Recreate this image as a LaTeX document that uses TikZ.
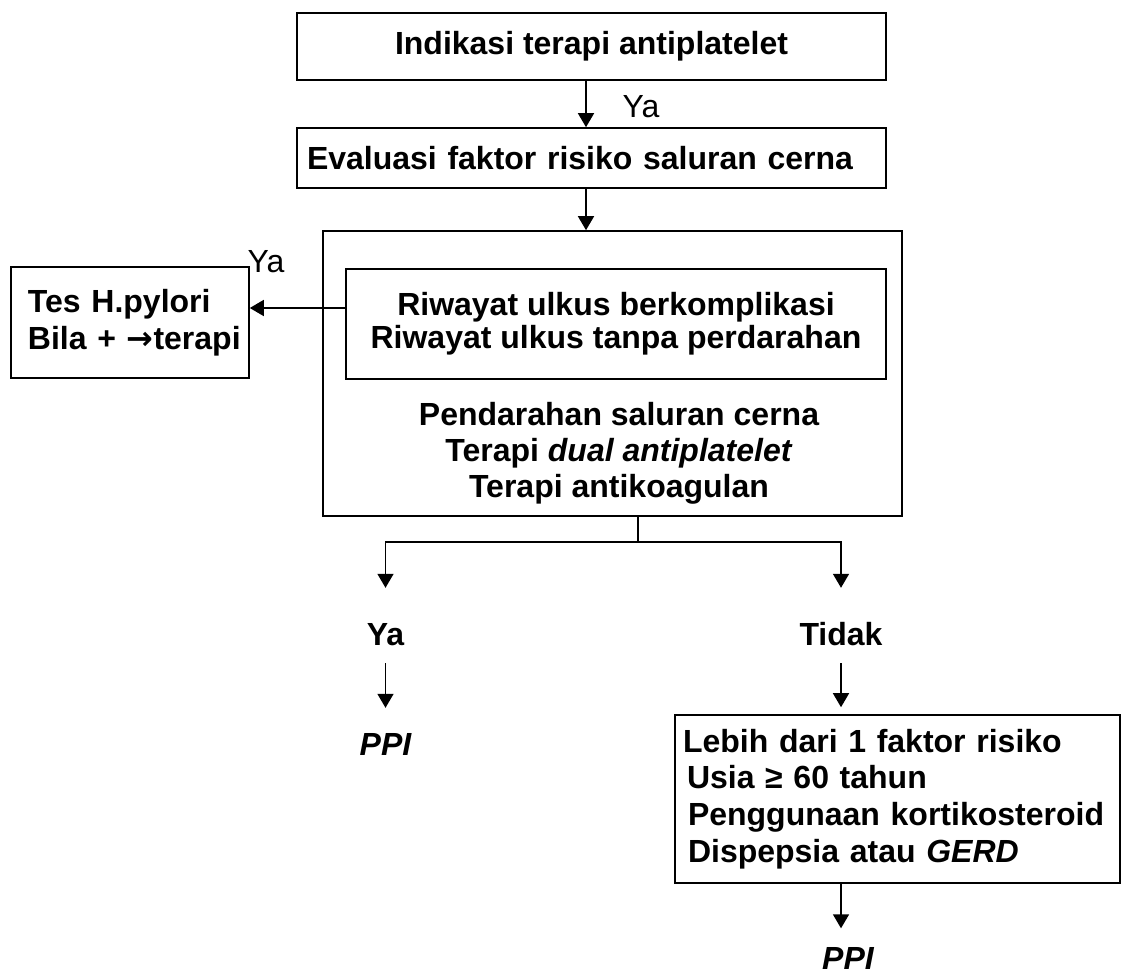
\documentclass[tikz,border=0pt]{standalone}
\usepackage{fontspec}
\setmainfont{Liberation Sans}
\newfontfamily\symfont{DejaVu Sans}
\usetikzlibrary{arrows.meta}

\begin{document}
\begin{tikzpicture}[x=1pt,y=-1pt,
  every node/.style={font=\fontsize{32}{36}\selectfont\bfseries},
  box/.style={draw, line width=1.6pt, inner sep=0pt},
  arr/.style={line width=1.6pt, -{Triangle[length=14pt,width=16pt]}},
  ln/.style={line width=1.6pt},
  lbl/.style={inner sep=0pt, text height=23pt, text depth=0pt},
  plain/.style={font=\fontsize{32}{36}\selectfont\mdseries},
  emph/.style={font=\fontsize{32}{36}\selectfont\bfseries\itshape}]
\useasboundingbox (0,0) rectangle (1122,976);

\node[box, minimum width=589pt, minimum height=67pt] (b1) at (591.5,46.5) {Indikasi terapi antiplatelet};
\node[box, minimum width=589pt, minimum height=60pt, text width=569pt, align=left, inner xsep=10pt] (b2) at (591.5,158) {Evaluasi faktor risiko saluran cerna};

\node[box, minimum width=579pt, minimum height=285pt] (big) at (612.5,373.5) {};
\node[box, minimum width=540pt, minimum height=110pt, align=center, font=\fontsize{32}{33}\selectfont\bfseries] (inner) at (616,324) {Riwayat ulkus berkomplikasi\\Riwayat ulkus tanpa perdarahan};
\node[align=center, font=\fontsize{32}{36}\selectfont\bfseries] (risk) at (619,453) {Pendarahan saluran cerna\\Terapi \textit{dual antiplatelet}\\Terapi antikoagulan};

\node[box, minimum width=238pt, minimum height=111pt, text width=230pt, align=left, inner xsep=4pt, font=\fontsize{32}{37}\selectfont\bfseries] (tes) at (130,322.5) {\hspace*{13pt}\mbox{Tes H.pylori}\\\hspace*{13pt}\mbox{Bila + {\symfont\bfseries →}terapi}};

\node[lbl, plain] (ya0) at (641,106) {Ya};
\node[lbl, plain] (ya1) at (266,261) {Ya};
\node[lbl] (ya) at (385.5,634) {Ya};
\node[lbl] (tidak) at (841,634) {Tidak};
\node[lbl, emph] (ppi1) at (385.5,744) {PPI};

\node[box, minimum width=445pt, minimum height=168pt, text width=429pt, align=left, inner xsep=8pt, font=\fontsize{32}{36.7}\selectfont\bfseries] (risk2) at (897.5,799) {Lebih dari 1 faktor risiko\\\hspace*{4pt}Usia ≥ 60 tahun\\\hspace*{5pt}Penggunaan kortikosteroid\\\hspace*{5pt}Dispepsia atau \textit{GERD}};
\node[lbl, emph] (ppi2) at (848,958) {PPI};

\draw[arr] ([xshift=-5.5pt]b1.south) -- ([xshift=-5.5pt]b1.south |- b2.north);
\draw[arr] ([xshift=-5.5pt]b2.south) -- ([xshift=-5.5pt]b2.south |- big.north);
\draw[arr] ([yshift=16pt]inner.west) -- ([yshift=16pt]inner.west -| tes.east);

\coordinate (split) at (638,542);
\draw[ln] (split |- big.south) -- (split);
\draw[arr, shorten >=34.5pt] (split) -| (ya.north);
\draw[arr, shorten >=34.5pt] (split) -| (tidak.north);
\draw[arr, shorten <=17.5pt, shorten >=24.5pt] (ya.south) -- (ppi1.north);
\draw[arr, shorten <=17.5pt, shorten >=7pt] (tidak.south) -- (tidak.south |- risk2.north);
\draw[arr, shorten >=18pt] (tidak.south |- risk2.south) -- (tidak.south |- ppi2.north);
\end{tikzpicture}
\end{document}
